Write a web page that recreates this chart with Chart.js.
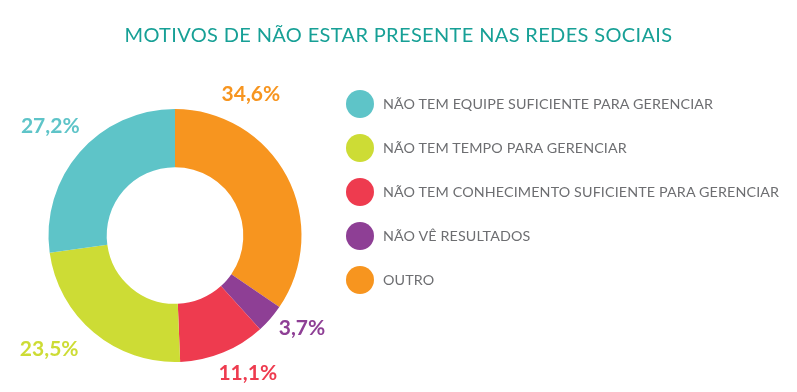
<!DOCTYPE html>
<html>
<head>
<meta charset="utf-8">
<script src="https://cdn.jsdelivr.net/npm/chart.js@4/dist/chart.umd.min.js"></script>
<style>
  html,body{margin:0;padding:0;background:#fff;}
  #wrap{position:relative;width:797px;height:392px;overflow:hidden;}
  #c{position:absolute;left:0;top:0;}
  #title{position:absolute;left:0;width:797px;top:22px;text-align:center;font-family:Lato,"Open Sans",sans-serif;font-size:20px;color:#17a096;letter-spacing:0.35px;line-height:24px;white-space:nowrap;}
  #legend{position:absolute;left:346px;top:0;}
  .item{position:absolute;left:0;height:28px;white-space:nowrap;}
  .dot{position:absolute;left:0;top:0;width:28px;height:28px;border-radius:50%;}
  .txt{position:absolute;left:37px;top:5px;font-family:Lato,"Open Sans",sans-serif;font-size:14.3px;line-height:18px;color:#6d6e71;letter-spacing:0.13px;}
</style>
</head>
<body>
<div id="wrap">
  <canvas id="c" width="797" height="392"></canvas>
  <div id="title"></div>
  <div id="legend"></div>
</div>
<script>
// ---- data ----
const titleText = "MOTIVOS DE NÃO ESTAR PRESENTE NAS REDES SOCIAIS";
const categories = [
  "NÃO TEM EQUIPE SUFICIENTE PARA GERENCIAR",
  "NÃO TEM TEMPO PARA GERENCIAR",
  "NÃO TEM CONHECIMENTO SUFICIENTE PARA GERENCIAR",
  "NÃO VÊ RESULTADOS",
  "OUTRO"
];
const values = [27.2, 23.5, 11.1, 3.7, 34.6];
const valueLabels = ["27,2%", "23,5%", "11,1%", "3,7%", "34,6%"];
const colors = ["#5ec4c8", "#cddc35", "#ee3b4f", "#8e3f95", "#f7951f"];

// slices run counter-clockwise from 12 o'clock in legend order -> feed reversed to the library
const order = categories.map((_, i) => i).reverse();

document.getElementById('title').textContent = titleText;
const legend = document.getElementById('legend');
categories.forEach((cat, i) => {
  const it = document.createElement('div');
  it.className = 'item';
  it.style.top = (90 + i * 44) + 'px';
  const d = document.createElement('div');
  d.className = 'dot';
  d.style.background = colors[i];
  const t = document.createElement('div');
  t.className = 'txt';
  t.textContent = cat;
  it.appendChild(d); it.appendChild(t);
  legend.appendChild(it);
});

const outsideLabels = {
  id: 'outsideLabels',
  afterDatasetsDraw(chart, args, opts) {
    const ctx = chart.ctx;
    const meta = chart.getDatasetMeta(0);
    ctx.save();
    ctx.font = opts.font;
    ctx.textAlign = 'center';
    ctx.textBaseline = 'middle';
    meta.data.forEach((arc, j) => {
      const i = order[j];
      const p = arc.getProps(['x', 'y', 'startAngle', 'endAngle', 'outerRadius'], true);
      const mid = (p.startAngle + p.endAngle) / 2 + (opts.angleShift[i] || 0) * Math.PI / 180;
      const r = p.outerRadius + opts.gap[i];
      ctx.fillStyle = colors[i];
      ctx.fillText(valueLabels[i], p.x + Math.cos(mid) * r, p.y + Math.sin(mid) * r);
    });
    ctx.restore();
  }
};

new Chart(document.getElementById('c'), {
  type: 'doughnut',
  data: {
    labels: order.map(i => categories[i]),
    datasets: [{
      data: order.map(i => values[i]),
      backgroundColor: order.map(i => colors[i]),
      borderWidth: 0
    }]
  },
  options: {
    responsive: false,
    animation: false,
    cutout: '54%',
    layout: { padding: { left: 48.5, right: 495.5, top: 109, bottom: 30 } },
    plugins: {
      legend: { display: false },
      tooltip: { enabled: false },
      outsideLabels: {
        font: 'bold 21px Lato, "Open Sans", sans-serif',
        angleShift: [0, 8, -5.6, -4.8, -34],
        gap: [39, 43, 29, 31, 34]
      }
    }
  },
  plugins: [outsideLabels]
});
</script>
</body>
</html>
